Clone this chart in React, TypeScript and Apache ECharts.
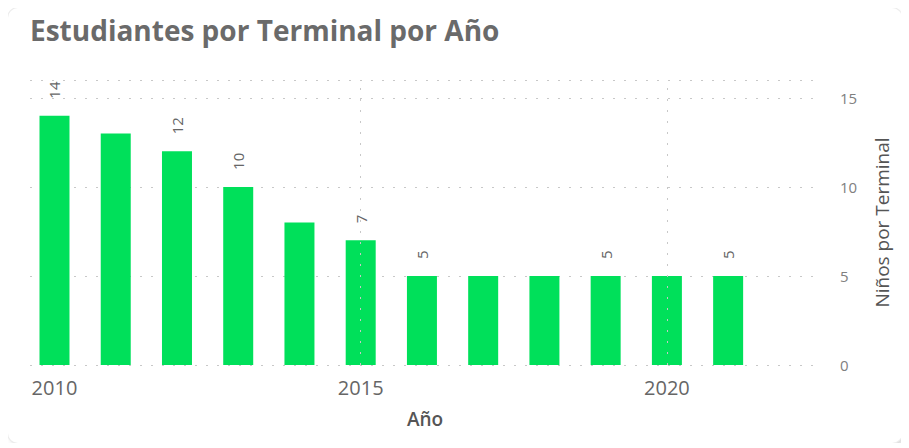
import React, { useEffect, useRef } from "react";
import * as echarts from "echarts";

const years = [2010, 2011, 2012, 2013, 2014, 2015, 2016, 2017, 2018, 2019, 2020, 2021];
const values = [14, 13, 12, 10, 8, 7, 5, 5, 5, 5, 5, 5];
const labeledYears = [2010, 2012, 2013, 2015, 2016, 2019, 2021];
const xTickLabels = [2010, 2015, 2020];
const xGridLines = [2015, 2020];

const FONT = "'Open Sans', 'Noto Sans', sans-serif";

export default function App() {
  const ref = useRef<HTMLDivElement>(null);
  useEffect(() => {
    if (!ref.current) return;
    const chart = echarts.init(ref.current, undefined, { renderer: "svg" });
    const dotted = { color: "#c8c8c8", width: 1, type: [2, 9] as number[] };
    chart.setOption({
      animation: false,
      title: {
        text: "Estudiantes por Terminal por Año",
        left: 17,
        top: 3,
        textStyle: { fontFamily: FONT, fontSize: 28, fontWeight: "bold", color: "#6a6a6a" },
      },
      grid: { left: 22, right: 82, top: 72, bottom: 78 },
      xAxis: {
        type: "value",
        min: 2009.6,
        max: 2022.5,
        name: "Año",
        nameLocation: "middle",
        nameGap: 44,
        nameTextStyle: { fontFamily: FONT, fontSize: 19, fontWeight: 600, color: "#555555" },
        axisLine: { show: false },
        axisTick: { show: false },
        splitLine: { show: false },
        axisLabel: {
          customValues: xTickLabels,
          margin: 12,
          fontFamily: FONT,
          fontSize: 20,
          color: "#666666",
          formatter: (v: number) => String(v),
        },
      },
      yAxis: {
        type: "value",
        position: "right",
        min: 0,
        max: 16,
        interval: 5,
        name: "Niños por Terminal",
        nameLocation: "middle",
        nameRotate: 90,
        nameGap: 52,
        nameTextStyle: { fontFamily: FONT, fontSize: 19, fontWeight: 500, color: "#555555" },
        axisLine: { show: false },
        axisTick: { show: false },
        splitLine: { show: true, lineStyle: dotted },
        axisLabel: {
          margin: 20,
          fontFamily: FONT,
          fontSize: 15,
          color: "#808080",
          showMaxLabel: false,
        },
      },
      series: [
        {
          type: "bar",
          barWidth: 30,
          itemStyle: { color: "#00E05A" },
          data: years.map((y, i) => ({
            value: [y, values[i]],
            label: { show: labeledYears.includes(y) },
          })),
          label: {
            show: false,
            position: "top",
            rotate: 90,
            align: "left",
            verticalAlign: "middle",
            distance: 17,
            fontFamily: FONT,
            fontSize: 15,
            color: "#666666",
            formatter: (p: any) => String(p.value[1]),
          },
          markLine: {
            silent: true,
            symbol: "none",
            label: { show: false },
            lineStyle: dotted,
            data: xGridLines.map((x) => ({ xAxis: x })),
          },
        },
      ],
    });
    return () => chart.dispose();
  }, []);
  return (
    <div
      style={{
        width: 894,
        height: 435,
        borderRadius: 10,
        background: "#ffffff",
        boxShadow: "0 0 0 1px #ececec, 3px 4px 5px rgba(0,0,0,0.14)",
        overflow: "hidden",
      }}
    >
      <div ref={ref} style={{ width: 894, height: 435 }} />
    </div>
  );
}
